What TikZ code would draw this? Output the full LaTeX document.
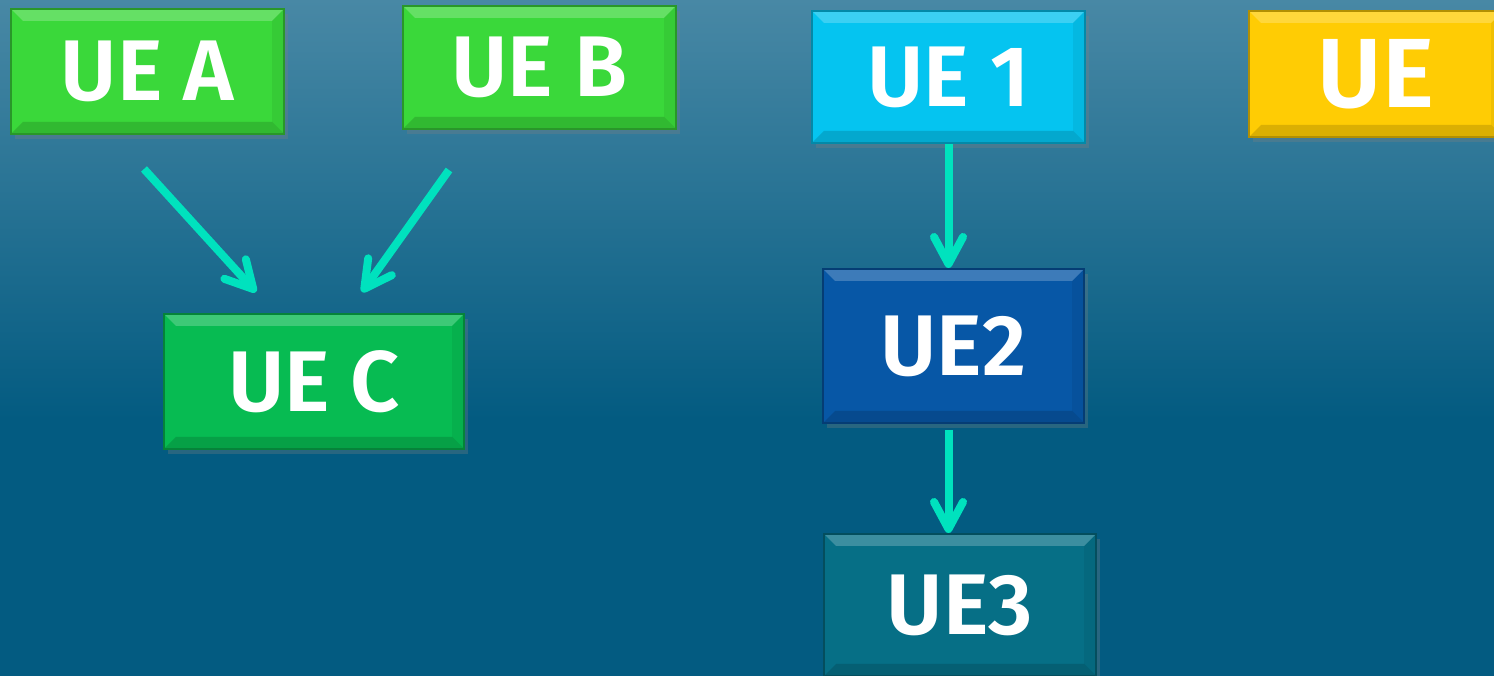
\documentclass[tikz,border=0pt]{standalone}
\usepackage{fontspec}
\setmainfont{Fira Sans}[BoldFont={Fira Sans SemiBold}]
\usepackage{tikz}
\usetikzlibrary{arrows.meta,positioning,shadows}

\definecolor{bgtop}{HTML}{4888A5}
\definecolor{bgbot}{HTML}{035B81}
\definecolor{linkcol}{HTML}{00E2BE}
\definecolor{greenA}{HTML}{3AD83A}
\definecolor{greenC}{HTML}{07BB52}
\definecolor{cyanUE}{HTML}{05C4F0}
\definecolor{blueUE}{HTML}{0757A6}
\definecolor{tealUE}{HTML}{066F86}
\definecolor{yellowUE}{HTML}{FFCC04}

\tikzset{
  uebox/.style={rectangle, anchor=north west, inner sep=0pt,
                fill=#1, draw=#1!70!black, line width=0.2mm,
                text=white, font=\bfseries\fontsize{24.5}{28}\selectfont,
                drop shadow={shadow xshift=0.4mm, shadow yshift=-0.5mm,
                             opacity=0.3},
                path picture={
                  \fill [white, opacity=0.22]
                    (path picture bounding box.north west)
                    -- (path picture bounding box.north east)
                    -- ([xshift=-1.2mm, yshift=-1.2mm]path picture bounding box.north east)
                    -- ([xshift=1.2mm, yshift=-1.2mm]path picture bounding box.north west)
                    -- cycle;
                  \fill [black, opacity=0.14]
                    (path picture bounding box.south west)
                    -- (path picture bounding box.south east)
                    -- ([xshift=-1.2mm, yshift=1.2mm]path picture bounding box.south east)
                    -- ([xshift=1.2mm, yshift=1.2mm]path picture bounding box.south west)
                    -- cycle;
                  \fill [black, opacity=0.06]
                    (path picture bounding box.south east)
                    -- (path picture bounding box.north east)
                    -- ([xshift=-1.2mm, yshift=-1.2mm]path picture bounding box.north east)
                    -- ([xshift=-1.2mm, yshift=1.2mm]path picture bounding box.south east)
                    -- cycle;
                }},
  link/.style={draw=linkcol, line width=0.8mm,
               -{Straight Barb[round, length=2.7mm, width=2.9mm]}}
}

\begin{document}
\begin{tikzpicture}[x=0.1mm, y=-0.1mm]
  \path [use as bounding box, clip] (0,0) rectangle (1494,676);
  \shade [top color=bgtop, bottom color=bgbot] (0,0) rectangle (1494,420);
  \fill [bgbot] (0,419) rectangle (1494,676);

  % merge
  \node [uebox=greenA, minimum width=27.3mm, minimum height=12.5mm] (ueA) at (10,8) {UE A};
  \node [uebox=greenA, minimum width=27.3mm, minimum height=12.3mm] (ueB) at (402,5) {UE B};
  \node [uebox=greenC, minimum width=30mm, minimum height=13.5mm] (ueC) at (163,313) {UE C};

  % chain
  \node [uebox=cyanUE, minimum width=27.3mm, minimum height=13.2mm] (ueOne) at (811,10) {UE 1};
  \node [uebox=blueUE, minimum width=26.1mm, minimum height=15.4mm] (ueTwo) at (822,268) {UE2};
  \node [uebox=tealUE, minimum width=27.2mm, minimum height=14.2mm] (ueThree) at (823,533) {UE3};

  \node [uebox=yellowUE, minimum width=25.4mm, minimum height=12.6mm,
         font=\bfseries\fontsize{28}{32}\selectfont] (ue) at (1248,10) {UE};

  \draw [link] ([xshift=-0.35mm, yshift=-3.4mm]ueA.south)
            -- ([xshift=-5.8mm, yshift=2.1mm]ueC.north);
  \draw [link] ([xshift=-9.05mm, yshift=-4mm]ueB.south)
            -- ([xshift=4.8mm, yshift=2.1mm]ueC.north);
  \draw [link] (ueOne.south) -- (ueOne.south |- ueTwo.north);
  \draw [link, shorten <=0.6mm] (ueOne.south |- ueTwo.south)
            -- (ueOne.south |- ueThree.north);
\end{tikzpicture}
\end{document}
